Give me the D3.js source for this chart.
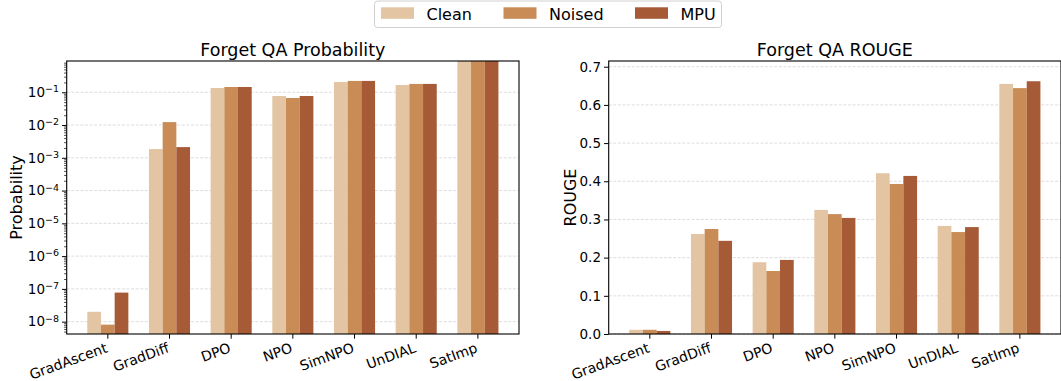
<!DOCTYPE html>
<html>
<head>
<meta charset="utf-8">
<script src="https://cdn.jsdelivr.net/npm/d3@7"></script>
<style>
body { margin: 0; background: #fff; }
text { font-family: "DejaVu Sans", sans-serif; fill: #000; }
</style>
</head>
<body>
<script>
var categories = ["GradAscent", "GradDiff", "DPO", "NPO", "SimNPO", "UnDIAL", "SatImp"];
var series = ["Clean", "Noised", "MPU"];
var colors = ["#e3c5a3", "#c98c56", "#a65a36"];

// Forget QA Probability (log scale)
var probClean  = [2.0e-8, 1.85e-3, 0.135, 0.077, 0.206, 0.167, 0.95];
var probNoised = [8.1e-9, 1.23e-2, 0.145, 0.067, 0.222, 0.180, 0.95];
var probMPU    = [7.7e-8, 2.12e-3, 0.145, 0.077, 0.222, 0.180, 0.95];
var probTicks  = [1e-8, 1e-7, 1e-6, 1e-5, 1e-4, 1e-3, 1e-2, 1e-1];

// Forget QA ROUGE
var rougeClean  = [0.011, 0.262, 0.188, 0.325, 0.421, 0.283, 0.655];
var rougeNoised = [0.011, 0.275, 0.165, 0.314, 0.393, 0.267, 0.644];
var rougeMPU    = [0.008, 0.244, 0.194, 0.304, 0.414, 0.280, 0.662];
var rougeTicks  = [0, 0.1, 0.2, 0.3, 0.4, 0.5, 0.6, 0.7];

var w = 1061;
var h = 381;
var plotTop = 61;
var plotBottom = 334;

var svg = d3.select("body")
    .append("svg")
    .attr("width", w)
    .attr("height", h);

function panel(left, right, y, values, title, ylabel, ticks, minor, fmt, labelX, id) {
    var x0 = d3.scaleBand()
        .domain(categories)
        .range([left, right])
        .paddingInner(0)
        .paddingOuter(0.1667);
    var step = x0.step();
    var x1 = d3.scaleBand()
        .domain(series)
        .range([-0.333 * step, 0.333 * step]);

    var g = svg.append("g");

    g.append("clipPath").attr("id", id)
        .append("rect")
        .attr("x", left).attr("y", plotTop)
        .attr("width", right - left).attr("height", plotBottom - plotTop);

    // grid
    g.selectAll(".grid")
        .data(ticks)
        .enter()
        .append("line")
        .attr("x1", left)
        .attr("x2", right)
        .attr("y1", function(d) { return y(d); })
        .attr("y2", function(d) { return y(d); })
        .attr("stroke", "#d4d4d4")
        .attr("stroke-width", 0.8)
        .attr("stroke-dasharray", "3,1.6");

    // bars
    var bars = g.append("g").attr("clip-path", "url(#" + id + ")");
    series.forEach(function(s, si) {
        bars.selectAll(".b" + si)
            .data(values[si])
            .enter()
            .append("rect")
            .attr("x", function(d, i) { return x0(categories[i]) + step / 2 + x1(s); })
            .attr("width", x1.bandwidth())
            .attr("y", function(d) { return y(d); })
            .attr("height", function(d) { return plotBottom - y(d); })
            .attr("fill", colors[si]);
    });

    // y axis
    var yAxis = g.append("g")
        .attr("transform", "translate(" + left + ",0)")
        .call(d3.axisLeft(y).tickValues(ticks).tickSize(4.7).tickPadding(3).tickFormat(fmt));
    yAxis.select(".domain").remove();
    yAxis.selectAll("text")
        .attr("font-size", "13.5px")
        .attr("font-family", "DejaVu Sans");
    yAxis.selectAll("line").attr("stroke-width", 1);

    if (minor) {
        var m = g.append("g")
            .attr("transform", "translate(" + left + ",0)")
            .call(d3.axisLeft(y).tickValues(minor).tickSize(2.6).tickFormat(""));
        m.select(".domain").remove();
        m.selectAll("line").attr("stroke-width", 0.7);
        // superscripts
        yAxis.selectAll(".tick text").each(function(d) {
            var t = d3.select(this);
            t.text("10");
            t.append("tspan")
                .attr("dy", "-0.5em")
                .attr("font-size", "9.5px")
                .text("\u2212" + Math.round(-Math.log10(d)));
        });
    }

    // x axis
    var xAxis = g.append("g")
        .attr("transform", "translate(0," + plotBottom + ")")
        .call(d3.axisBottom(x0).tickSize(4.7).tickSizeOuter(0).tickFormat(""));
    xAxis.select(".domain").remove();
    xAxis.selectAll("line").attr("stroke-width", 1);

    g.selectAll(".xl")
        .data(categories)
        .enter()
        .append("text")
        .text(function(d) { return d; })
        .attr("text-anchor", "end")
        .attr("dy", "0.74em")
        .attr("font-size", "14px")
        .attr("transform", function(d) {
            return "translate(" + (x0(d) + step / 2 - 3) + ",342) rotate(-20)";
        });

    // frame
    g.append("rect")
        .attr("x", left)
        .attr("y", plotTop)
        .attr("width", right - left)
        .attr("height", plotBottom - plotTop)
        .attr("fill", "none")
        .attr("stroke", "#000")
        .attr("stroke-width", 1.1);

    g.append("text")
        .text(title)
        .attr("x", (left + right) / 2)
        .attr("y", 56)
        .attr("text-anchor", "middle")
        .attr("font-size", "17.5px");

    g.append("text")
        .text(ylabel)
        .attr("transform", "translate(" + labelX + "," + ((plotTop + plotBottom) / 2) + ") rotate(-90)")
        .attr("text-anchor", "middle")
        .attr("font-size", "16px");
}

var minorTicks = [];
for (var e = -9; e <= -1; e++) {
    for (var k = 2; k <= 9; k++) {
        var v = k * Math.pow(10, e);
        if (v > 4.2e-9 && v < 0.9) minorTicks.push(v);
    }
}

var yProb = d3.scaleLog().domain([4.2e-9, 0.9]).range([plotBottom, plotTop]);
var yRouge = d3.scaleLinear().domain([0, 0.715]).range([plotBottom, plotTop]);

panel(66.7, 519, yProb, [probClean, probNoised, probMPU],
    "Forget QA Probability", "Probability", probTicks, minorTicks,
    function(d) { return d; }, 22, "clipA");

panel(608.7, 1061, yRouge, [rougeClean, rougeNoised, rougeMPU],
    "Forget QA ROUGE", "ROUGE", rougeTicks, null,
    d3.format(".1f"), 575.5, "clipB");

// legend
var legend = svg.append("g");
legend.append("rect")
    .attr("x", 374.5)
    .attr("y", 1)
    .attr("width", 347)
    .attr("height", 26.5)
    .attr("rx", 3)
    .attr("fill", "#fff")
    .attr("stroke", "#d0d0d0")
    .attr("stroke-width", 1);

var legendX = [381, 503.5, 635];
legend.selectAll(".lp")
    .data(series)
    .enter()
    .append("rect")
    .attr("x", function(d, i) { return legendX[i]; })
    .attr("y", 7.3)
    .attr("width", 33)
    .attr("height", 11.5)
    .attr("fill", function(d, i) { return colors[i]; });

legend.selectAll(".lt")
    .data(series)
    .enter()
    .append("text")
    .text(function(d) { return d; })
    .attr("x", function(d, i) { return legendX[i] + 45.5; })
    .attr("y", 19.5)
    .attr("font-size", "16px");
</script>
</body>
</html>
